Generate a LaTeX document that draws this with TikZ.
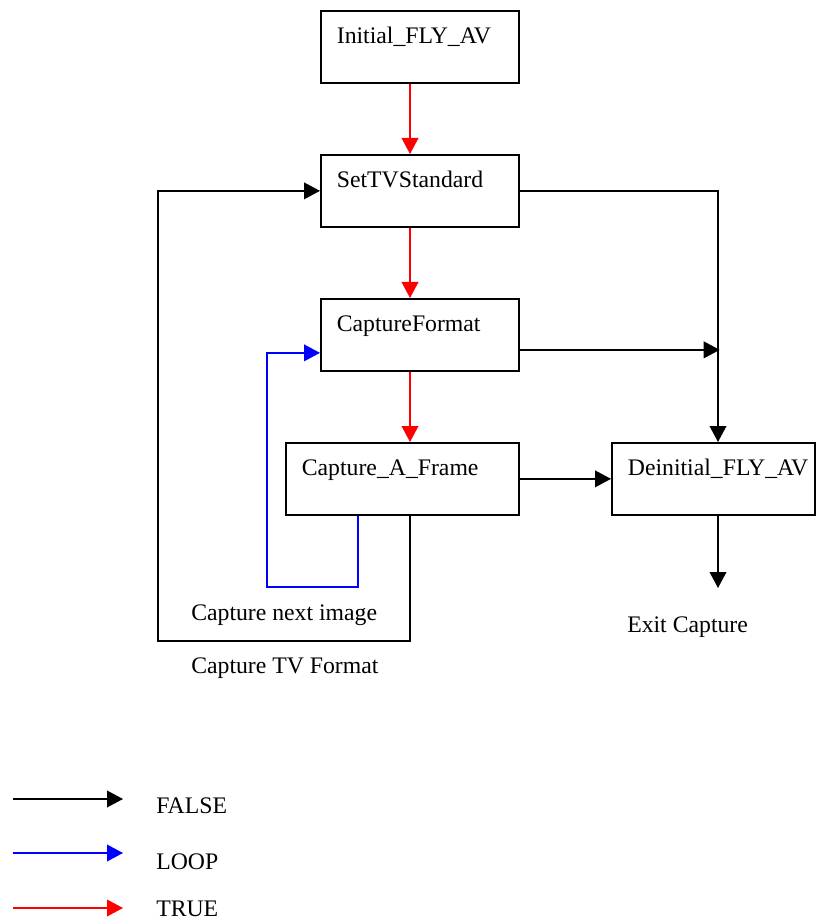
\documentclass[tikz,border=0pt]{standalone}
\usepackage{fontspec}
\setmainfont{Liberation Serif}
\usetikzlibrary{arrows.meta,calc}
\begin{document}
\begin{tikzpicture}[x=0.75pt,y=-0.75pt,
  box/.style={draw,line width=1.3pt,anchor=north west,inner sep=0pt,
    text height=24.75pt,text depth=29.25pt,align=left,text width=#1},
  lbl/.style={anchor=base west,inner sep=0pt,font=\fontsize{17.8pt}{21pt}\selectfont},
  conn/.style={line width=1.2pt,-{Triangle[length=12pt,width=12.5pt]}},
  f/.style={conn,black},
  t/.style={conn,red},
  lp/.style={conn,blue}]
\useasboundingbox (0,0) rectangle (815,923);
\fontsize{17.8pt}{21pt}\selectfont
% boxes
\node[box=148.5pt] (init) at (320,10) {\hspace*{12pt}Initial\_FLY\_AV};
\node[box=148.5pt] (settv) at (320,154) {\hspace*{12pt}SetTVStandard};
\node[box=148.5pt] (capfmt) at (320,298) {\hspace*{12pt}CaptureFormat};
\node[box=174.75pt] (capframe) at (285,442) {\hspace*{12pt}Capture\_A\_Frame};
\node[box=152.25pt] (deinit) at (611,442) {\hspace*{12pt}Deinitial\_FLY\_AV};
% free-end coordinates
\coordinate (loopbl) at (158,641);
\coordinate (bluebl) at (267,587);
\path ([yshift=-11.25pt]capfmt.east) ++(200,0) coordinate (cfend);
\coordinate (exitpt) at (718,588);
% TRUE connectors
\draw[t] ([xshift=67.5pt]init.south west) -- ([xshift=67.5pt]settv.north west);
\draw[t] ([xshift=67.5pt]settv.south west) -- ([xshift=67.5pt]capfmt.north west);
\draw[t] ([xshift=67.5pt]capfmt.south west) -- ([xshift=93.75pt]capframe.north west);
% FALSE connectors
\draw[f] ([xshift=93.75pt]capframe.south west) |- (loopbl) |- (settv.west);
\draw[f] (settv.east) -| ([xshift=80.25pt]deinit.north west);
\draw[f] ([yshift=-11.25pt]capfmt.east) -- (cfend);
\draw[f] (capframe.east) -- (deinit.west);
\draw[f] ([xshift=80.25pt]deinit.south west) -- (exitpt);
% LOOP connector
\draw[lp] ([xshift=54.75pt]capframe.south west) |- (bluebl) |- ([yshift=-13.5pt]capfmt.west);
% labels
\node[lbl] (nextimg) at (191,620) {Capture next image};
\node[lbl] (tvfmt) at (191,673) {Capture TV Format};
\node[lbl] (exitcap) at (627,632) {Exit Capture};
% legend
\coordinate (lf0) at (13,799); \coordinate (lf1) at (123,799);
\coordinate (ll0) at (13,853); \coordinate (ll1) at (123,853);
\coordinate (lt0) at (13,908); \coordinate (lt1) at (123,908);
\draw[f] (lf0) -- (lf1);
\draw[lp] (ll0) -- (ll1);
\draw[t] (lt0) -- (lt1);
\node[lbl] (lfalse) at (156,813) {FALSE};
\node[lbl] (lloop) at (156,869) {LOOP};
\node[lbl] (ltrue) at (156,916) {TRUE};
\end{tikzpicture}
\end{document}
